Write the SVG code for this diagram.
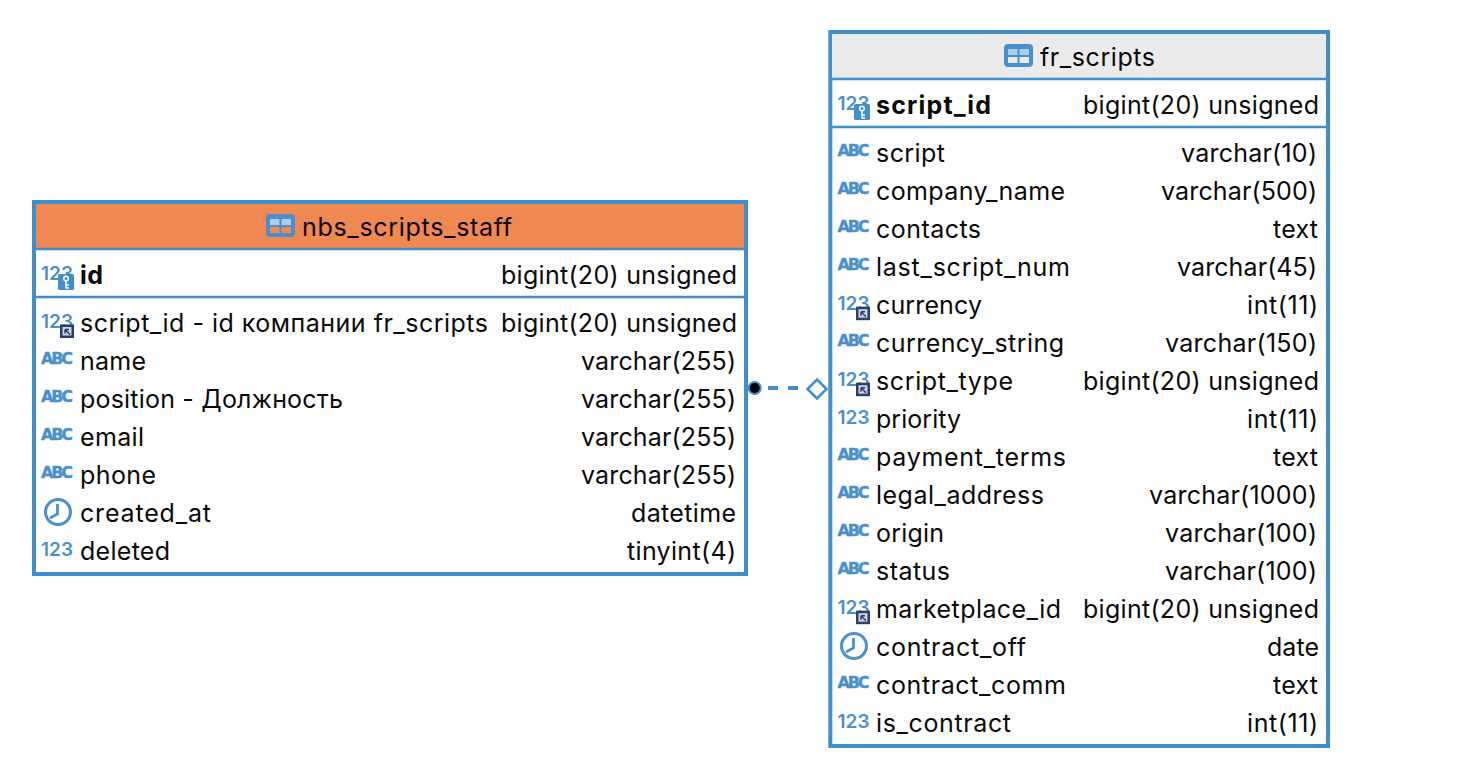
<svg xmlns="http://www.w3.org/2000/svg" width="1470" height="784" viewBox="0 0 1470 784">
<style>
.box{fill:#fff;stroke:#3f8fcd;stroke-width:4}
.sep{stroke:#3f8fcd;stroke-width:2.500}
text{font-family:"Inter","Liberation Sans",sans-serif;fill:#0a0a0a;font-size:25px}
.b{font-weight:700}
.t{text-anchor:end}
.i123{font-size:19px;font-weight:600;fill:#4a90cf;font-family:"Inter","Liberation Sans",sans-serif}
.iabc{font-size:16px;font-weight:700;fill:#4a90cf;stroke:#4a90cf;stroke-width:.4;font-family:"DejaVu Sans",sans-serif}
</style>
<defs>
<g id="tbl"><path fill-rule="evenodd" d="M4 0H25A4 4 0 0 1 29 4V19A4 4 0 0 1 25 23H4A4 4 0 0 1 0 19V4A4 4 0 0 1 4 0ZM4 13V19H13.500V13ZM15.500 13V19H25V13Z" fill="#4a90cf"/><rect x="4" y="5" width="9.500" height="6" fill="#a9cdea"/><rect x="15.500" y="5" width="9.500" height="6" fill="#a9cdea"/></g>
<g id="key"><rect x="0" y="0" width="16" height="16" rx="1.500" fill="#3f8fcd"/><circle cx="8" cy="4.500" r="2.300" fill="none" stroke="#fff" stroke-width="1.500"/><path d="M8 7V14.500M8 11H11M8 14H11" stroke="#fff" stroke-width="1.500" fill="none"/></g>
<g id="fk"><rect x="0" y="0" width="14" height="13.500" fill="#2c3e6b"/><rect x="2.500" y="2.500" width="9" height="8.500" fill="#c9d5e6"/><path d="M5 5L10 10M5 5H9M5 5V9" stroke="#2c3e6b" stroke-width="1.500" fill="none"/></g>
<g id="clk"><circle cx="0" cy="0" r="12.500" fill="none" stroke="#4a90cf" stroke-width="3"/><path d="M-0.500 -8V2L-8 6" fill="none" stroke="#4a90cf" stroke-width="2.800"/></g>
</defs>

<g id="connectors">
<path d="M755 388H806" fill="none" stroke="#3f8fcd" stroke-width="4" stroke-dasharray="10 10" stroke-dashoffset="-13"/>
<circle cx="754.700" cy="388" r="6" fill="#000" stroke="#3f8fcd" stroke-width="2"/>
<path d="M817 379.500L826.500 389L817 398.500L807.500 389Z" fill="#fff" stroke="#3f8fcd" stroke-width="2.500"/>
</g>

<g id="node-nbs_scripts_staff">
<rect class="box" x="34" y="202" width="712" height="372"/>
<rect x="36" y="204" width="708" height="44" fill="#f18851"/>
<line class="sep" x1="35" y1="249" x2="746" y2="249"/>
<line class="sep" x1="35" y1="297" x2="746" y2="297"/>
<use href="#tbl" x="266" y="214"/>
<text x="302" y="236" textLength="210">nbs_scripts_staff</text>

<text class="i123" x="41" y="280" textLength="32">123</text><use href="#key" x="58" y="274"/>
<text class="b" x="80" y="284" textLength="23">id</text><text class="t" x="737" y="284" textLength="236">bigint(20) unsigned</text>
<text class="i123" x="41" y="328" textLength="32">123</text><use href="#fk" x="60" y="324.500"/>
<text x="80" y="332" textLength="408">script_id - id компании fr_scripts</text><text class="t" x="737" y="332" textLength="236">bigint(20) unsigned</text>
<text class="iabc" x="41" y="364" textLength="32">ABC</text><text x="80" y="370" textLength="66">name</text><text class="t" x="736" y="370" textLength="155">varchar(255)</text>
<text class="iabc" x="41" y="402" textLength="32">ABC</text><text x="80" y="408" textLength="263">position - Должность</text><text class="t" x="736" y="408" textLength="155">varchar(255)</text>
<text class="iabc" x="41" y="440" textLength="32">ABC</text><text x="80" y="446" textLength="64">email</text><text class="t" x="736" y="446" textLength="155">varchar(255)</text>
<text class="iabc" x="41" y="478" textLength="32">ABC</text><text x="80" y="484" textLength="76">phone</text><text class="t" x="736" y="484" textLength="155">varchar(255)</text>
<use href="#clk" x="58" y="512"/><text x="80" y="522" textLength="131">created_at</text><text class="t" x="736" y="522" textLength="105">datetime</text>
<text class="i123" x="41" y="556" textLength="32">123</text><text x="80" y="560" textLength="90">deleted</text><text class="t" x="736" y="560" textLength="109">tinyint(4)</text>
</g>

<g id="node-fr_scripts">
<rect class="box" x="830.300" y="32" width="497.700" height="714"/>
<rect x="832" y="34" width="494" height="44" fill="#ebebeb"/>
<line class="sep" x1="831" y1="79" x2="1328" y2="79"/>
<line class="sep" x1="831" y1="127" x2="1328" y2="127"/>
<use href="#tbl" x="1004" y="44"/>
<text x="1040" y="66" textLength="115">fr_scripts</text>

<text class="i123" x="837.500" y="110" textLength="32">123</text><use href="#key" x="854" y="104"/>
<text class="b" x="876" y="114" textLength="115">script_id</text><text class="t" x="1319" y="114" textLength="236">bigint(20) unsigned</text>
<text class="iabc" x="837.500" y="156" textLength="32">ABC</text><text x="876" y="162" textLength="69">script</text><text class="t" x="1317" y="162" textLength="136">varchar(10)</text>
<text class="iabc" x="837.500" y="194" textLength="32">ABC</text><text x="876" y="200" textLength="189">company_name</text><text class="t" x="1317" y="200" textLength="156">varchar(500)</text>
<text class="iabc" x="837.500" y="232" textLength="32">ABC</text><text x="876" y="238" textLength="105">contacts</text><text class="t" x="1318" y="238" textLength="45">text</text>
<text class="iabc" x="837.500" y="270" textLength="32">ABC</text><text x="876" y="276" textLength="194">last_script_num</text><text class="t" x="1317" y="276" textLength="140">varchar(45)</text>
<text class="i123" x="837.500" y="310" textLength="32">123</text><use href="#fk" x="856" y="306.700"/><text x="876" y="314" textLength="106">currency</text><text class="t" x="1318" y="314" textLength="71">int(11)</text>
<text class="iabc" x="837.500" y="346" textLength="32">ABC</text><text x="876" y="352" textLength="188">currency_string</text><text class="t" x="1317" y="352" textLength="152">varchar(150)</text>
<text class="i123" x="837.500" y="386" textLength="32">123</text><use href="#fk" x="856" y="382.700"/><text x="876" y="390" textLength="137">script_type</text><text class="t" x="1319" y="390" textLength="236">bigint(20) unsigned</text>
<text class="i123" x="837.500" y="424" textLength="32">123</text><text x="876" y="428" textLength="85">priority</text><text class="t" x="1318" y="428" textLength="71">int(11)</text>
<text class="iabc" x="837.500" y="460" textLength="32">ABC</text><text x="876" y="466" textLength="190">payment_terms</text><text class="t" x="1318" y="466" textLength="45">text</text>
<text class="iabc" x="837.500" y="498" textLength="32">ABC</text><text x="876" y="504" textLength="168">legal_address</text><text class="t" x="1317" y="504" textLength="168">varchar(1000)</text>
<text class="iabc" x="837.500" y="536" textLength="32">ABC</text><text x="876" y="542" textLength="68">origin</text><text class="t" x="1317" y="542" textLength="152">varchar(100)</text>
<text class="iabc" x="837.500" y="574" textLength="32">ABC</text><text x="876" y="580" textLength="74">status</text><text class="t" x="1317" y="580" textLength="152">varchar(100)</text>
<text class="i123" x="837.500" y="614" textLength="32">123</text><use href="#fk" x="856" y="610.700"/><text x="876" y="618" textLength="185">marketplace_id</text><text class="t" x="1319" y="618" textLength="236">bigint(20) unsigned</text>
<use href="#clk" x="854" y="646"/><text x="876" y="656" textLength="150">contract_off</text><text class="t" x="1319" y="656" textLength="52">date</text>
<text class="iabc" x="837.500" y="688" textLength="32">ABC</text><text x="876" y="694" textLength="190">contract_comm</text><text class="t" x="1318" y="694" textLength="45">text</text>
<text class="i123" x="837.500" y="728" textLength="32">123</text><text x="876" y="732" textLength="135">is_contract</text><text class="t" x="1318" y="732" textLength="71">int(11)</text>
</g>
</svg>
